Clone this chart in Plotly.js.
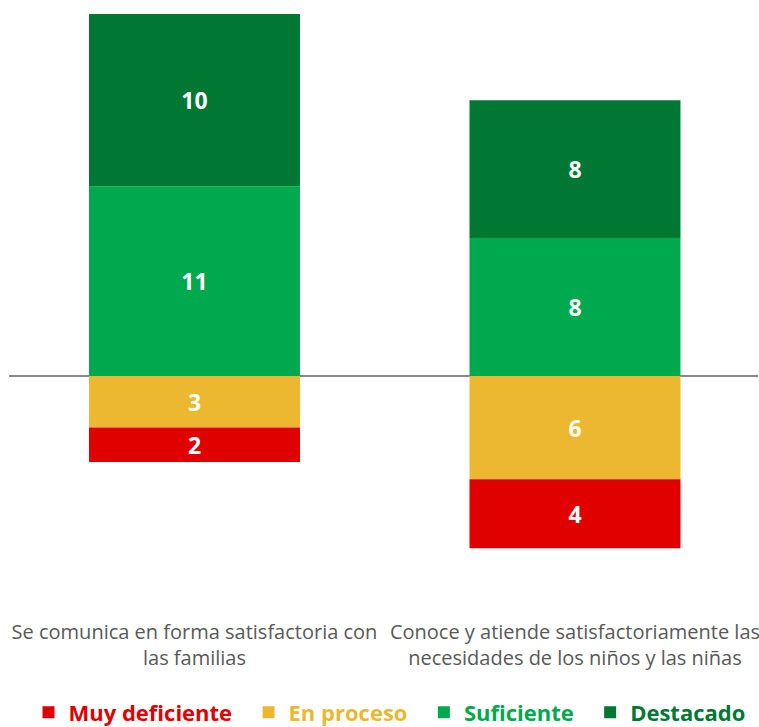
<!DOCTYPE html>
<html>
<head>
<meta charset="utf-8">
<script src="https://cdn.plot.ly/plotly-3.0.1.min.js"></script>
<style>html,body{margin:0;padding:0;background:#fff;}#chart{width:759px;height:727px;}</style>
</head>
<body>
<div id="chart"></div>
<script>
const categories = ["Se comunica en forma satisfactoria con<br>las familias", "Conoce y atiende satisfactoriamente las<br>necesidades de los niños y las niñas"];
const seriesNames = ["Muy deficiente", "En proceso", "Suficiente", "Destacado"];
const muyDeficiente = [2, 4];
const enProceso = [3, 6];
const suficiente = [11, 8];
const destacado = [10, 8];
const colors = ["#e00000", "#ebb82f", "#00a84e", "#007834"];

function mk(name, vals, color, sign, rank, pad) {
  return {
    type: 'bar',
    x: categories,
    y: vals.map(v => sign * v),
    text: vals.map(v => String(v)),
    texttemplate: '<b>%{text}</b>',
    textposition: 'inside',
    insidetextanchor: 'middle',
    textangle: 0,
    constraintext: 'none',
    textfont: {family: '"Open Sans", sans-serif', size: 23, color: '#ffffff'},
    marker: {color: color, line: {width: 0}},
    name: '<b><span style="color:' + color + '">' + name + '</span></b>' + (pad ? '\u00a0\u00a0' : ''),
    legendrank: rank,
    hoverinfo: 'skip'
  };
}

const data = [
  mk(seriesNames[1], enProceso, colors[1], -1, 2, true),
  mk(seriesNames[0], muyDeficiente, colors[0], -1, 1, true),
  mk(seriesNames[2], suficiente, colors[2], 1, 3, true),
  mk(seriesNames[3], destacado, colors[3], 1, 4, false)
];

const layout = {
  width: 759, height: 727,
  margin: {l: 9, r: 1, t: 14, b: 115, autoexpand: false},
  paper_bgcolor: '#ffffff', plot_bgcolor: '#ffffff',
  barmode: 'relative',
  bargap: 0.4455,
  font: {family: '"Open Sans", sans-serif', color: '#595959'},
  xaxis: {
    range: [-0.4875, 1.481],
    showgrid: false, showline: false, zeroline: false,
    ticks: '', tickfont: {size: 20, color: '#595959', family: '"Open Sans", sans-serif'},
    ticklabelstandoff: 6,
    automargin: false,
    fixedrange: true
  },
  yaxis: {
    range: [-13.7, 21],
    showgrid: false, showticklabels: false, showline: false,
    zeroline: true, zerolinecolor: '#888888', zerolinewidth: 1.5,
    layer: 'above traces', automargin: false, fixedrange: true
  },
  showlegend: true,
  legend: {
    orientation: 'h', x: 0.508, xanchor: 'center',
    y: -0.168, yanchor: 'middle',
    font: {size: 22, family: '"Open Sans", sans-serif'},
    itemwidth: 30, traceorder: 'normal', borderwidth: 0
  }
};

Plotly.newPlot('chart', data, layout, {displayModeBar: false, staticPlot: true});
</script>
</body>
</html>
